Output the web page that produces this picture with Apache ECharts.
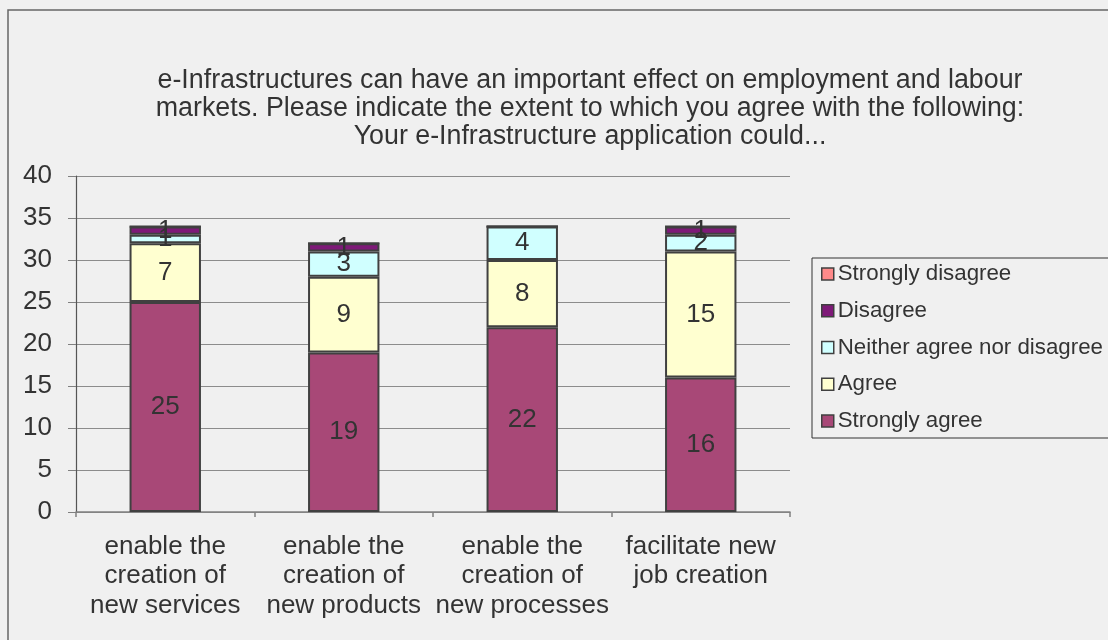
<!DOCTYPE html>
<html>
<head>
<meta charset="utf-8">
<script src="https://cdn.jsdelivr.net/npm/echarts@6/dist/echarts.min.js"></script>
<style>
  html, body { margin: 0; padding: 0; background: #f0f0f0; }
  #chart { width: 1108px; height: 640px; }
</style>
</head>
<body>
<div id="chart"></div>
<script>
// Survey responses per statement (number of respondents)
const categories = [
  'enable the\ncreation of\nnew services',
  'enable the\ncreation of\nnew products',
  'enable the\ncreation of\nnew processes',
  'facilitate new\njob creation'
];
const stronglyAgree    = [25, 19, 22, 16];
const agree            = [7, 9, 8, 15];
const neither          = [1, 3, 4, 2];
const disagree         = [1, 1, 0, 1];
const stronglyDisagree = [0, 0, 0, 0];

const seriesNames = ['Strongly agree', 'Agree', 'Neither agree nor disagree', 'Disagree', 'Strongly disagree'];
const seriesValues = [stronglyAgree, agree, neither, disagree, stronglyDisagree];
const seriesColors = ['#a84877', '#ffffd0', '#d0ffff', '#7e1a78', '#ff8a8a'];

const yTicks = { min: 0, max: 40, interval: 5 };

const FONT = 'Liberation Sans';
const TEXT = '#333333';
const EDGE = '#404040';

const chart = echarts.init(document.getElementById('chart'), null, { renderer: 'canvas' });

const series = seriesNames.map((name, i) => ({
  name: name,
  type: 'bar',
  stack: 'total',
  barWidth: '40%',
  data: seriesValues[i],
  itemStyle: { color: seriesColors[i], borderColor: EDGE, borderWidth: 2 },
  label: {
    show: true,
    position: 'inside',
    fontFamily: FONT,
    fontSize: 26,
    color: TEXT,
    formatter: p => (p.value > 0 ? String(p.value) : '')
  },
  emphasis: { disabled: true }
}));

chart.setOption({
  backgroundColor: '#f0f0f0',
  animation: false,
  textStyle: { fontFamily: FONT },
  graphic: [
    {
      type: 'rect',
      shape: { x: 8, y: 10, width: 1200, height: 700 },
      style: { fill: 'none', stroke: '#666666', lineWidth: 1.5 },
      silent: true
    },
    {
      type: 'text',
      x: 590,
      y: 67,
      style: {
        text: 'e-Infrastructures can have an important effect on employment and labour\nmarkets. Please indicate the extent to which you agree with the following:\nYour e-Infrastructure application could...',
        fontFamily: FONT,
        fontSize: 26.8,
        lineHeight: 28,
        fill: TEXT,
        align: 'center',
        verticalAlign: 'top'
      },
      silent: true
    }
  ],
  legend: {
    orient: 'vertical',
    left: 812,
    top: 258,
    padding: [5, 12, 6, 9],
    itemWidth: 12,
    itemHeight: 12,
    itemGap: 14.75,
    icon: 'rect',
    borderColor: '#333333',
    borderWidth: 1,
    backgroundColor: '#f0f0f0',
    data: ['Strongly disagree', 'Disagree', 'Neither agree nor disagree', 'Agree', 'Strongly agree'],
    itemStyle: { borderColor: EDGE, borderWidth: 1.5 },
    textStyle: { fontFamily: FONT, fontSize: 22.3, lineHeight: 22, color: TEXT, padding: [0, 0, 0, -1] },
    selectedMode: false
  },
  grid: { left: 76, right: 318, top: 176, bottom: 128, containLabel: false },
  xAxis: {
    type: 'category',
    data: categories,
    boundaryGap: true,
    axisLine: { lineStyle: { color: '#808080', width: 1.5 } },
    axisTick: { show: true, length: 5, lineStyle: { color: '#808080', width: 1.5 } },
    axisLabel: {
      interval: 0,
      margin: 20,
      fontFamily: FONT,
      fontSize: 26,
      lineHeight: 29.5,
      color: TEXT
    }
  },
  yAxis: {
    type: 'value',
    min: yTicks.min,
    max: yTicks.max,
    interval: yTicks.interval,
    axisLine: { show: true, lineStyle: { color: '#555555', width: 1.2 } },
    axisTick: { show: true, length: 8, lineStyle: { color: '#808080' } },
    splitLine: { lineStyle: { color: '#8c8c8c', width: 1 } },
    axisLabel: { margin: 24, fontFamily: FONT, fontSize: 26, color: TEXT }
  },
  series: series
});
</script>
</body>
</html>
